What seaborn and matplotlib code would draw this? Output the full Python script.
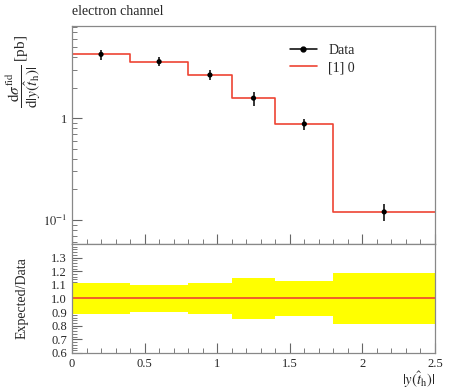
"""Differential cross section vs |y(t_h)|, electron channel, with ratio panel."""
import numpy as np
import pandas as pd
import matplotlib
matplotlib.use("Agg")
import matplotlib.pyplot as plt
from matplotlib.ticker import MultipleLocator, LogLocator, NullFormatter, FixedLocator
import seaborn as sns

# --- data ---
bin_edges = [0.0, 0.4, 0.8, 1.1, 1.4, 1.8, 2.5]
xsec = [4.26, 3.61, 2.67, 1.58, 0.88, 0.12]          # pb
rel_up = [0.114, 0.101, 0.114, 0.154, 0.125, 0.186]  # ratio band upper - 1
rel_dn = [0.116, 0.101, 0.116, 0.154, 0.128, 0.188]  # 1 - ratio band lower
ratio = [1.0, 1.0, 1.0, 1.0, 1.0, 1.0]

RED = "#ee4433"

sns.set_style("ticks")
plt.rcParams["font.family"] = ["Liberation Serif", "DejaVu Serif"]
plt.rcParams["mathtext.fontset"] = "stix"
plt.rcParams["axes.edgecolor"] = "#888888"
plt.rcParams["axes.linewidth"] = 0.9

edges = np.array(bin_edges)
centres = 0.5 * (edges[1:] + edges[:-1])
vals = np.array(xsec)
up = np.array(rel_up)
dn = np.array(rel_dn)

steps = pd.DataFrame({"x": edges, "y": np.append(vals, vals[-1])})
points = pd.DataFrame({"x": centres, "y": vals})

fig = plt.figure(figsize=(4.5, 3.9), dpi=100)
ax = fig.add_axes([0.16, 0.3744, 0.8067, 0.5589])
rax = fig.add_axes([0.16, 0.0949, 0.8067, 0.2795], sharex=ax)

# --- main panel ---
sns.lineplot(data=steps, x="x", y="y", ax=ax, color=RED, lw=1.2,
             drawstyle="steps-post", label="[1] 0", zorder=2)
ax.errorbar(centres, vals, yerr=[vals * dn, vals * up], fmt="none",
            ecolor="black", elinewidth=1.1, capsize=0, zorder=3)
sns.scatterplot(data=points, x="x", y="y", ax=ax, color="black", s=14,
                edgecolor="none", zorder=4)
ax.plot([], [], color="black", marker="o", ms=3.5, lw=1.1, label="Data")

ax.set_yscale("log")
ax.set_ylim(0.058, 8.1)
ax.set_xlim(0, 2.5)
ax.yaxis.set_major_locator(FixedLocator([0.1, 1]))
ax.set_yticklabels([r"$10^{-1}$", "1"])
ax.yaxis.set_minor_locator(LogLocator(base=10, subs=np.arange(2, 10)))
ax.yaxis.set_minor_formatter(NullFormatter())
ax.xaxis.set_major_locator(MultipleLocator(0.5))
ax.xaxis.set_minor_locator(MultipleLocator(0.1))
ax.tick_params(axis="x", labelbottom=False)
ax.tick_params(which="both", direction="in", color="#666666", labelsize=9)
ax.tick_params(which="major", length=7)
ax.tick_params(which="minor", length=3.5)
ax.set_xlabel("")
ax.set_ylabel(r"$\dfrac{\mathrm{d}\sigma^{\mathrm{fid}}}{\mathrm{d}|y(\hat{t}_{\mathrm{h}})|}$ [pb]",
              fontsize=11)
ax.yaxis.set_label_coords(-0.08, 0.79)

h, l = ax.get_legend_handles_labels()
order = [l.index("Data"), l.index("[1] 0")]
ax.legend([h[i] for i in order], [l[i] for i in order], loc="upper left",
          bbox_to_anchor=(0.565, 0.975), frameon=False, fontsize=10,
          handlelength=2.0, labelspacing=0.3)
ax.text(0.0, 1.035, "electron channel", transform=ax.transAxes,
        fontsize=10, ha="left", va="bottom")

# --- ratio panel ---
lo = np.append(1 - dn, 1 - dn[-1])
hi = np.append(1 + up, 1 + up[-1])
rax.fill_between(edges, lo, hi, step="post", color="yellow", lw=0, zorder=1)
rsteps = pd.DataFrame({"x": edges, "y": np.append(ratio, ratio[-1])})
sns.lineplot(data=rsteps, x="x", y="y", ax=rax, color=RED, lw=1.2,
             drawstyle="steps-post", zorder=2)
rax.set_ylim(0.6, 1.4)
rax.set_xlim(0, 2.5)
rax.yaxis.set_major_locator(FixedLocator([0.6, 0.7, 0.8, 0.9, 1.0, 1.1, 1.2, 1.3]))
rax.yaxis.set_minor_locator(MultipleLocator(0.02))
rax.tick_params(which="both", direction="in", color="#666666", labelsize=9)
rax.tick_params(which="major", length=7)
rax.tick_params(which="minor", length=3.5)
rax.set_xticks([0, 0.5, 1, 1.5, 2, 2.5])
rax.set_xticklabels(["0", "0.5", "1", "1.5", "2", "2.5"])
rax.set_ylabel("Expected/Data", fontsize=10)
rax.yaxis.set_label_coords(-0.12, 0.5)
rax.set_xlabel(r"$|y(\hat{t}_{\mathrm{h}})|$", fontsize=10.5)
rax.xaxis.set_label_coords(1.0, -0.15)
rax.xaxis.label.set_horizontalalignment("right")
rax.xaxis.label.set_verticalalignment("top")

fig.savefig("out.png", dpi=100)
